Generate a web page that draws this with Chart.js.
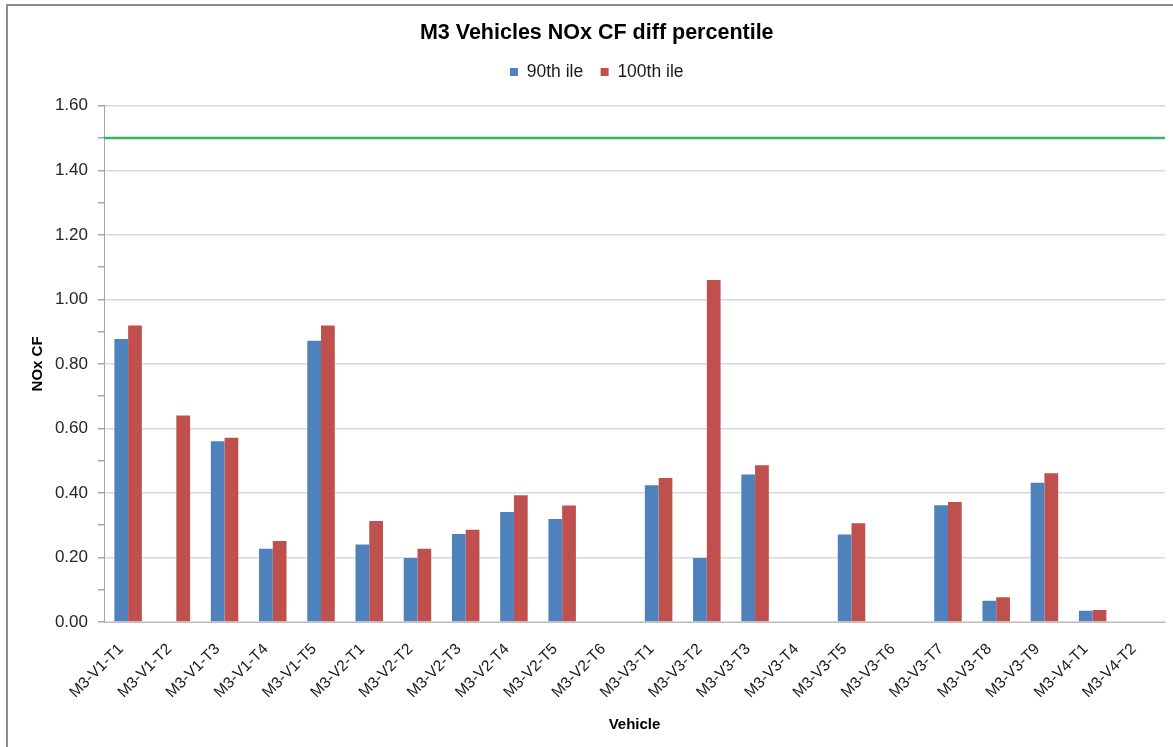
<!DOCTYPE html>
<html>
<head>
<meta charset="utf-8">
<title>M3 Vehicles NOx CF diff percentile</title>
<script src="https://cdn.jsdelivr.net/npm/chart.js@4/dist/chart.umd.min.js"></script>
<style>
  html, body { margin: 0; padding: 0; background: #ffffff; }
  #wrap { position: relative; width: 1173px; height: 747px; overflow: hidden; }
  #frame { position: absolute; left: 6px; top: 4px; width: 1200px; height: 800px;
           border-left: 2px solid #8c8c8c; border-top: 2px solid #8c8c8c; box-sizing: border-box; }
  #c { position: absolute; left: 0; top: 0; }
</style>
</head>
<body>
<div id="wrap">
  <div id="frame"></div>
  <canvas id="c" width="1173" height="747"></canvas>
</div>
<script>
// Test runs per vehicle
const vehicles = [
  'M3-V1-T1', 'M3-V1-T2', 'M3-V1-T3', 'M3-V1-T4', 'M3-V1-T5',
  'M3-V2-T1', 'M3-V2-T2', 'M3-V2-T3', 'M3-V2-T4', 'M3-V2-T5', 'M3-V2-T6',
  'M3-V3-T1', 'M3-V3-T2', 'M3-V3-T3', 'M3-V3-T4', 'M3-V3-T5', 'M3-V3-T6',
  'M3-V3-T7', 'M3-V3-T8', 'M3-V3-T9', 'M3-V4-T1', 'M3-V4-T2'
];

// 90th percentile NOx CF (null = no result)
const p90 = [
  0.877, null, 0.560, 0.227, 0.872,
  0.240, 0.198, 0.273, 0.341, 0.319, null,
  0.424, 0.198, 0.457, null, 0.271, null,
  0.362, 0.066, 0.432, 0.035, null
];

// 100th percentile NOx CF
const p100 = [
  0.919, 0.640, 0.571, 0.251, 0.919,
  0.313, 0.227, 0.286, 0.393, 0.361, null,
  0.446, 1.060, 0.486, null, 0.306, null,
  0.372, 0.077, 0.461, 0.037, null
];

// Conformity factor limit
const noxCfLimit = 1.5;

// Y axis range and tick spacing
const yMin = 0;
const yMax = 1.6;
const yStep = 0.1;
</script>
<script>
const FONT = '"Liberation Sans", Arial, sans-serif';

// Horizontal limit line drawn across the plot area at the limit value
const limitLinePlugin = {
  id: 'limitLine',
  afterDatasetsDraw(chart) {
    const { ctx, chartArea, scales } = chart;
    const y = scales.y.getPixelForValue(noxCfLimit);
    ctx.save();
    ctx.strokeStyle = '#33b561';
    ctx.lineWidth = 2.5;
    ctx.beginPath();
    ctx.moveTo(chartArea.left, y);
    ctx.lineTo(chartArea.right, y);
    ctx.stroke();
    ctx.restore();
  }
};

// Extra gap between the legend and the plot area
const legendGapPlugin = {
  id: 'legendGap',
  afterInit(chart) {
    const lg = chart.legend;
    if (!lg) return;
    const fit = lg.fit.bind(lg);
    lg.fit = function () {
      fit();
      this.height += 15;
    };
  }
};

new Chart(document.getElementById('c'), {
  type: 'bar',
  data: {
    labels: vehicles,
    datasets: [
      { label: '90th ile', data: p90, backgroundColor: '#4f81bd', borderWidth: 0 },
      { label: '100th ile', data: p100, backgroundColor: '#c0504d', borderWidth: 0 }
    ]
  },
  options: {
    responsive: false,
    animation: false,
    devicePixelRatio: 1,
    categoryPercentage: 0.57,
    barPercentage: 1.0,
    layout: { padding: { left: 28.5, right: 8, top: 0, bottom: 13 } },
    plugins: {
      title: {
        display: true,
        text: 'M3 Vehicles NOx CF diff percentile',
        color: '#000000',
        font: { family: FONT, size: 21.5, weight: 'bold' },
        padding: { top: 20, bottom: 0 }
      },
      legend: {
        display: true,
        position: 'top',
        labels: {
          color: '#1a1a1a',
          font: { family: FONT, size: 17.5 },
          boxWidth: 8,
          boxHeight: 8,
          padding: 17.5
        }
      },
      tooltip: { enabled: false }
    },
    scales: {
      x: {
        grid: { display: false, drawTicks: false },
        border: { display: true, color: '#bfbfbf', width: 1 },
        ticks: {
          color: '#1a1a1a',
          font: { family: FONT, size: 15.5 },
          maxRotation: 45,
          minRotation: 45,
          autoSkip: false,
          padding: 18,
          labelOffset: -7
        },
        title: {
          display: true,
          text: 'Vehicle',
          color: '#000000',
          font: { family: FONT, size: 15, weight: 'bold' },
          padding: { top: 0, bottom: 0 }
        },
        afterFit(scale) { scale.height = 747 - 622 - 13; }
      },
      y: {
        min: yMin,
        max: yMax,
        grid: {
          color: (c) => (Math.round(c.tick.value * 10) % 2 === 0 ? '#d9d9d9' : 'rgba(0,0,0,0)'),
          tickColor: '#a6a6a6',
          tickLength: 6,
          lineWidth: 1.5
        },
        border: { display: true, color: '#a6a6a6', width: 1 },
        ticks: {
          stepSize: yStep,
          color: '#262626',
          font: { family: FONT, size: 17 },
          padding: 10,
          callback: (v) => (Math.round(v * 10) % 2 === 0 ? v.toFixed(2) : '')
        },
        title: {
          display: true,
          text: 'NOx CF',
          color: '#000000',
          font: { family: FONT, size: 15, weight: 'bold' },
          padding: { top: 0, bottom: 0 }
        },
        afterFit(scale) { scale.width = 104 - 28.5; }
      }
    }
  },
  plugins: [limitLinePlugin, legendGapPlugin]
});
</script>
</body>
</html>
